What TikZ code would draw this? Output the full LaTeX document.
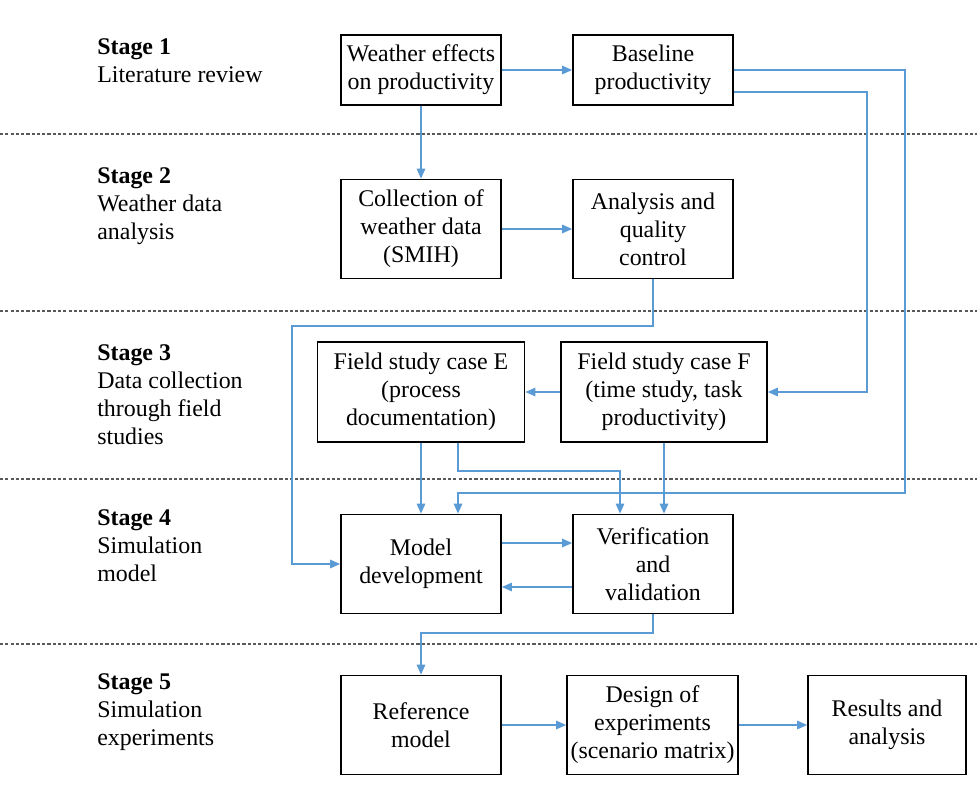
\documentclass[tikz,border=0pt]{standalone}
\usepackage{fontspec}
\setmainfont{Liberation Serif}
\usetikzlibrary{arrows.meta,calc}
\definecolor{flowblue}{RGB}{91,155,213}

\begin{document}
\begin{tikzpicture}[x=0.02cm, y=-0.02cm,
    font=\fontsize{13.6}{15.94}\selectfont,
    box/.style={draw, line width=1pt, align=center, inner sep=0pt,
      minimum width=3.2cm, minimum height=1.98cm},
    stage/.style={anchor=west, align=left, inner sep=0pt},
    flow/.style={draw=flowblue, line width=0.8pt,
      -{Triangle[length=0.2cm, width=0.17cm]}},
    sep/.style={draw=black!65, line width=0.6pt, dash pattern=on 1.8pt off 1.2pt}]
    \useasboundingbox (0,0) rectangle (977,806);

    % 段階の区切り線
    \foreach \y in {134,311,479,644}
      \draw[sep] (0,\y) -- (977,\y);

    % 段階の見出し
    \node[stage] (s1) at (97,61) {\textbf{Stage 1}\\Literature review};
    \node[stage] (s2) at (97,206.5) {\textbf{Stage 2}\\Weather data\\analysis};
    \node[stage] (s3) at (97,394.5) {\textbf{Stage 3}\\Data collection\\through field\\studies};
    \node[stage] (s4) at (97,545.5) {\textbf{Stage 4}\\Simulation\\model};
    \node[stage] (s5) at (97,712) {\textbf{Stage 5}\\Simulation\\experiments};

    % ボックス
    \node[box, minimum height=1.4cm] (wea) at (421,70) {Weather effects\\on productivity};
    \node[box, minimum height=1.4cm] (base) at (653,70) {Baseline\\productivity};
    \node[box] (coll) at (421,229) {Collection of\\weather data\\(SMIH)};
    \node[box] (anal) at (653,229) {Analysis and\\quality\\control};
    \node[box, minimum width=4.14cm, minimum height=2cm] (caseE) at (421,392) {Field study case E\\(process\\documentation)};
    \node[box, minimum width=4.12cm, minimum height=2cm] (caseF) at (664,392) {Field study case F\\(time study, task\\productivity)};
    \node[box] (model) at (421,564) {Model\\development};
    \node[box] (verif) at (653,564) {Verification\\and\\validation};
    \node[box] (ref) at (421,725) {Reference\\model};
    \node[box, minimum width=3.42cm] (doe) at (652.5,725) {Design of\\experiments\\(scenario matrix)};
    \node[box, minimum width=3.16cm] (res) at (887,725) {Results and\\analysis};

    % 折れ点
    \coordinate (k1) at (905,493);
    \coordinate (k2) at (867,392);
    \coordinate (k3) at (292,326);
    \coordinate (k4) at (620,471);
    \coordinate (k5) at (421,633);

    % 矢印
    \draw[flow] (wea) -- (base);
    \draw[flow] (wea) -- (coll);
    \draw[flow] (base.east) -| (k1) -| ($(model.north)+(37,0)$);
    \draw[flow] ($(base.south east)+(0,-14)$) -| (k2) -- (caseF.east);
    \draw[flow] (coll) -- (anal);
    \draw[flow] (anal.south) |- (k3) |- (model.west);
    \draw[flow] (caseF) -- (caseE);
    \draw[flow] (caseE.south) -- (model.north);
    \draw[flow] ($(caseE.south)+(37,0)$) |- (k4) -- (k4 |- verif.north);
    \draw[flow] (caseF.south) -- (caseF.south |- verif.north);
    \draw[flow] ($(model.east)+(0,-21)$) -- ($(verif.west)+(0,-21)$);
    \draw[flow] ($(verif.west)+(0,23)$) -- ($(model.east)+(0,23)$);
    \draw[flow] (verif.south) |- (k5) -- (ref.north);
    \draw[flow] (ref) -- (doe);
    \draw[flow] (doe) -- (res);
  \end{tikzpicture}
\end{document}
